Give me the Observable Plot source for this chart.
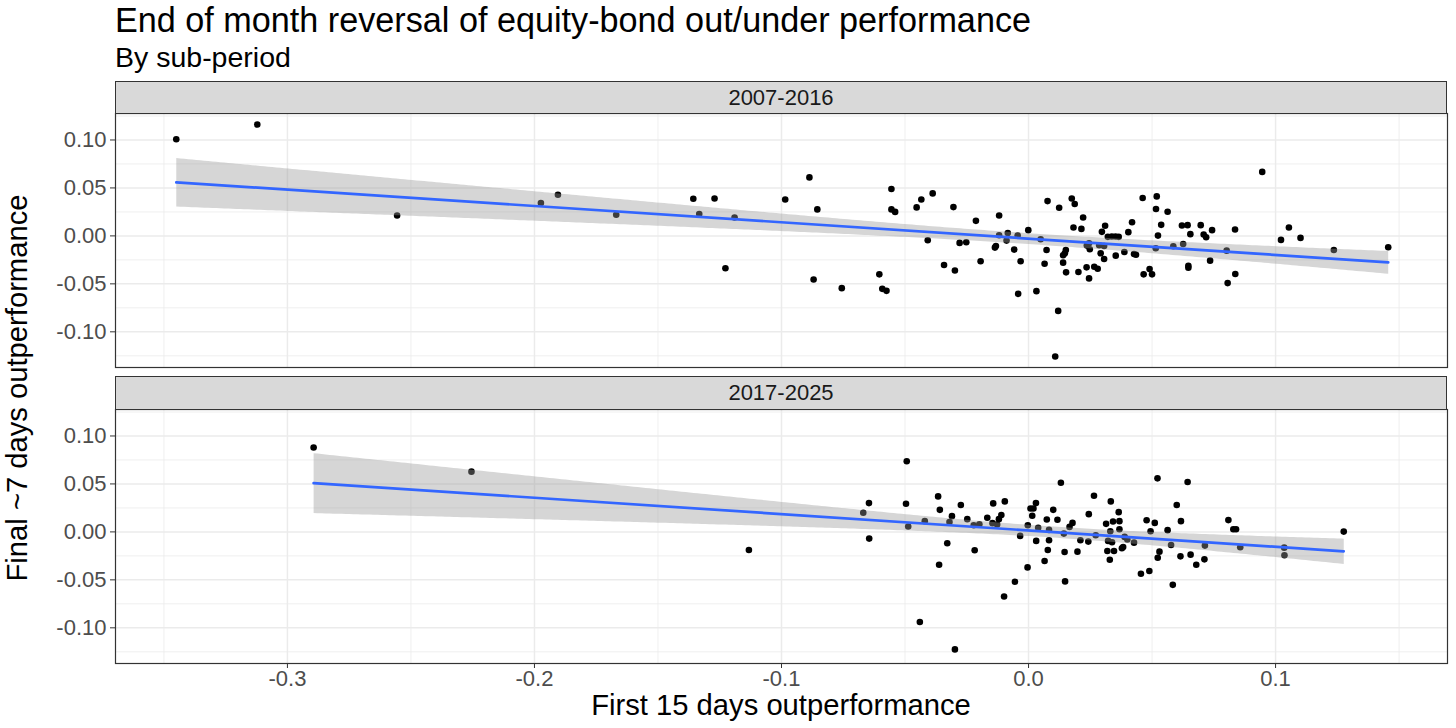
<!DOCTYPE html>
<html>
<head>
<meta charset="utf-8">
<script src="https://cdn.jsdelivr.net/npm/d3@7"></script>
<script src="https://cdn.jsdelivr.net/npm/@observablehq/plot@0.6"></script>
<style>
  html, body { margin: 0; padding: 0; background: white; }
  #chart { position: relative; width: 1456px; height: 728px; background: white; overflow: hidden;
           font-family: "Liberation Sans", Arial, sans-serif; }
  .abs { position: absolute; white-space: nowrap; line-height: 1; }
  .tight { line-height: 0.8; }
  .strip { position: absolute; box-sizing: border-box; border: 1px solid #333333; background: #d9d9d9;
           color: #1a1a1a; font-size: 22px; display: flex; align-items: center; justify-content: center; }
  .panel { position: absolute; left: 0; }
</style>
</head>
<body>
<div id="chart"></div>
<script>
// ---------- data ----------
const facetLabels = ["2007-2016", "2017-2025"];

const period1X = [-0.345, -0.3122, -0.2556, -0.1974, -0.1905, -0.1669, -0.1357, -0.1333, -0.1271, -0.119,
  -0.1227, -0.0985, -0.0887, -0.0855, -0.087, -0.0756, -0.0604, -0.0592, -0.0575, -0.0555,
  -0.0555, -0.054, -0.0453, -0.0434, -0.0388, -0.0408, -0.0342, -0.0304, -0.0298, -0.0279,
  -0.0252, -0.0213, -0.0194, -0.0119, -0.0119, -0.0136, -0.0132, -0.0084, -0.0089, -0.0058,
  -0.0044, -0.0032, -0.0042, -0.0001, 0.0032, 0.0049, 0.0077, 0.0073, 0.0065, 0.0124,
  0.012, 0.0108, 0.014, 0.0151, 0.0147, 0.014, 0.0152, 0.0175, 0.0187, 0.0182,
  0.0221, 0.0214, 0.0202, 0.0236, 0.0245, 0.0248, 0.0235, 0.0245, 0.0266, 0.028,
  0.0286, 0.0292, 0.0306, 0.0306, 0.0297, 0.031, 0.0321, 0.0337, 0.0352, 0.0365,
  0.0353, 0.0388, 0.0404, 0.0419, 0.0427, 0.0435, 0.0462, 0.0466, 0.049, 0.05,
  0.0519, 0.0516, 0.0524, 0.0515, 0.0537, 0.0563, 0.0586, 0.0621, 0.0644, 0.0655,
  0.0626, 0.0647, 0.0647, 0.0697, 0.0709, 0.0719, 0.0743, 0.0735, 0.0802, 0.0806,
  0.0836, 0.0837, 0.0946, 0.1022, 0.1054, 0.1101, 0.1236, 0.1456];
const period1Y = [0.1008, 0.1162, 0.0213, 0.0342, 0.0429, 0.022, 0.0387, 0.0227, 0.039, 0.0192,
  -0.0338, 0.038, 0.061, 0.0276, -0.0454, -0.0545, -0.0401, -0.0552, -0.0573, 0.0489,
  0.0276, 0.025, 0.0297, 0.038, 0.0443, -0.0045, -0.0304, 0.030, -0.036, -0.0073,
  -0.0066, 0.0157, -0.0265, 0.0213, 0.0007, -0.0122, -0.0105, 0.003, -0.0049, -0.0143,
  0.0003, -0.0265, -0.0604, 0.006, -0.0576, -0.0035, 0.0363, -0.0147, -0.029, 0.0293,
  -0.0782, -0.1257, -0.0279, -0.0147, -0.0181, -0.0202, -0.038, 0.039, 0.0332, 0.0087,
  0.0192, 0.0073, -0.0377, -0.0101, -0.0077, -0.0139, -0.0328, -0.0443, -0.0321, -0.0342,
  -0.0098, -0.0181, -0.0105, -0.0241, 0.0042, 0.0105, -0.001, -0.0007, -0.0007, -0.001,
  -0.0206, -0.0168, 0.0039, 0.0143, -0.0188, -0.0196, 0.0395, -0.0401, -0.0346, -0.0401,
  0.0412, 0.028, 0.0003, -0.0129, 0.0115, 0.0251, -0.0108, 0.0108, 0.0112, 0.0018,
  -0.0084, -0.0311, -0.0332, 0.0112, 0.0014, -0.0014, 0.006, -0.0258, -0.0154, -0.0492,
  0.0066, -0.0398, 0.0667, -0.0042, 0.0087, -0.0021, -0.0147, -0.0118];

const period2X = [-0.2894, -0.2255, -0.1132, -0.0669, -0.0646, -0.0645, -0.0493, -0.0496, -0.0487, -0.042,
  -0.044, -0.0366, -0.0359, -0.0362, -0.0329, -0.031, -0.032, -0.0298, -0.0274, -0.0248,
  -0.0222, -0.0199, -0.0218, -0.0167, -0.0143, -0.0146, -0.0127, -0.012, -0.011, -0.0096,
  -0.0099, -0.0055, -0.0034, -0.0004, -0.0003, 0.003, 0.002, 0.0008, 0.0015, 0.0031,
  0.0039, 0.0131, 0.01, 0.0074, 0.0117, 0.0083, 0.0083, 0.0078, 0.0065, 0.0148,
  0.0146, 0.0143, 0.0166, 0.0178, 0.0198, 0.021, 0.0244, 0.0242, 0.0265, 0.0272,
  0.0333, 0.0314, 0.0342, 0.0331, 0.0322, 0.0338, 0.0319, 0.0346, 0.0329, 0.0365,
  0.0368, 0.0368, 0.0389, 0.04, 0.0383, 0.0378, 0.0427, 0.0455, 0.0489, 0.0478,
  0.0494, 0.0511, 0.0522, 0.053, 0.0523, 0.0563, 0.0584, 0.06, 0.0617, 0.0577,
  0.0615, 0.0644, 0.0656, 0.0679, 0.0712, 0.0714, 0.0809, 0.0829, 0.084, 0.0857,
  0.1035, 0.1036, 0.1276];
const period2Y = [0.088, 0.0628, -0.0188, 0.0199, 0.030, -0.007, 0.0736, 0.0293, 0.0056, 0.0112,
  -0.0939, 0.037, 0.023, -0.0342, -0.0118, 0.0164, 0.0102, -0.1225, 0.028, 0.0133,
  0.007, 0.008, -0.0192, 0.0147, 0.0297, 0.0091, 0.0077, 0.0133, 0.0175, 0.0318,
  -0.0674, -0.052, -0.0042, -0.037, 0.007, 0.030, 0.0244, 0.0244, 0.0168, -0.0094,
  0.0042, 0.0513, 0.023, 0.0129, 0.0126, 0.0021, -0.0087, -0.0188, -0.0304, -0.0516,
  -0.0209, -0.0018, 0.0052, 0.0094, -0.0206, -0.0087, 0.0185, -0.0101, 0.0377, -0.0035,
  0.0318, 0.0084, 0.0108, 0.0007, -0.0094, -0.0108, -0.0199, -0.0199, -0.029, 0.0206,
  0.0112, 0.0028, -0.0052, -0.008, -0.0157, -0.0171, -0.0112, -0.0436, -0.0408, 0.0122,
  0.0007, 0.0094, 0.0558, -0.0206, -0.0269, 0.0018, -0.0552, 0.028, 0.0112, -0.0136,
  -0.0255, 0.052, -0.0237, -0.0342, -0.0286, -0.0143, 0.0123, 0.0028, 0.0028, -0.016,
  -0.0164, -0.0244, 0.0003];

const xMajorTicks = [-0.3, -0.2, -0.1, 0, 0.1];
const xMinorTicks = [-0.35, -0.25, -0.15, -0.05, 0.05, 0.15];
const yMajorTicks = [-0.1, -0.05, 0, 0.05, 0.1];
const yMinorTicks = [-0.125, -0.075, -0.025, 0.025, 0.075, 0.125];

const titleText = "End of month reversal of equity-bond out/under performance";
const subtitleText = "By sub-period";
const xLabel = "First 15 days outperformance";
const yLabel = "Final ~7 days outperformance";

// ---------- layout ----------
const X_DOMAIN = [-0.3696, 0.1696];
const Y_DOMAIN = [-0.1372, 0.1276];
const PANEL_H = 254;
const PAD = 10;
const FONT = "'Liberation Sans', Arial, sans-serif";

function panel(xs, ys, showX) {
  const data = xs.map((x, i) => ({x, y: ys[i]}));
  const mb = showX ? 40 : PAD;
  const grid = {strokeOpacity: 1, stroke: "#ebebeb"};
  return Plot.plot({
    width: 1456,
    height: PAD + PANEL_H + mb,
    marginLeft: 115, marginRight: 9, marginTop: PAD, marginBottom: mb,
    style: {background: "transparent", fontFamily: FONT, overflow: "visible"},
    x: {domain: X_DOMAIN, axis: null},
    y: {domain: Y_DOMAIN, axis: null},
    marks: [
      Plot.gridX(xMinorTicks, {...grid, strokeWidth: 0.8}),
      Plot.gridY(yMinorTicks, {...grid, strokeWidth: 0.8}),
      Plot.gridX(xMajorTicks, {...grid, strokeWidth: 1.5}),
      Plot.gridY(yMajorTicks, {...grid, strokeWidth: 1.5}),
      Plot.axisY(yMajorTicks, {anchor: "left", label: null, tickFormat: d => d.toFixed(2),
        fontSize: 22, tickSize: 5, tickPadding: 4, stroke: "#333333", fill: "#4d4d4d"}),
      showX ? Plot.axisX(xMajorTicks, {anchor: "bottom", label: null, tickFormat: d => d.toFixed(1),
        fontSize: 22, tickSize: 5, tickPadding: 2, stroke: "#333333", fill: "#4d4d4d"}) : null,
      Plot.dot(data, {x: "x", y: "y", r: 3.3, fill: "black", stroke: null}),
      Plot.linearRegressionY(data, {x: "x", y: "y", stroke: "#3366FF", strokeWidth: 2.7,
        fill: "#999999", fillOpacity: 0.4}),
      Plot.frame({stroke: "#333333", strokeWidth: 1.2})
    ]
  });
}

const chart = document.getElementById("chart");

function addDiv(cls, text, css) {
  const d = document.createElement("div");
  d.className = cls;
  d.textContent = text;
  Object.assign(d.style, css);
  chart.appendChild(d);
  return d;
}

// panels
const p1 = panel(period1X, period1Y, false);
p1.classList.add("panel");
p1.style.top = (113 - PAD) + "px";
chart.appendChild(p1);

const p2 = panel(period2X, period2Y, true);
p2.classList.add("panel");
p2.style.top = (409 - PAD) + "px";
chart.appendChild(p2);

// strips
addDiv("strip", facetLabels[0], {left: "115px", top: "81px", width: "1332px", height: "33px"});
addDiv("strip", facetLabels[1], {left: "115px", top: "376px", width: "1332px", height: "34px"});

// titles
addDiv("abs", titleText, {left: "115px", top: "3.3px", fontSize: "34.2px", color: "#000"});
addDiv("abs", subtitleText, {left: "115px", top: "42.5px", fontSize: "28.5px", color: "#000"});
addDiv("abs tight", xLabel, {left: "781px", top: "694px", fontSize: "29.2px", color: "#000",
  transform: "translateX(-50%)"});
addDiv("abs tight", yLabel, {left: "18px", top: "388px", fontSize: "29.2px", color: "#000",
  transform: "translate(-50%, -50%) rotate(-90deg)"});
</script>
</body>
</html>
